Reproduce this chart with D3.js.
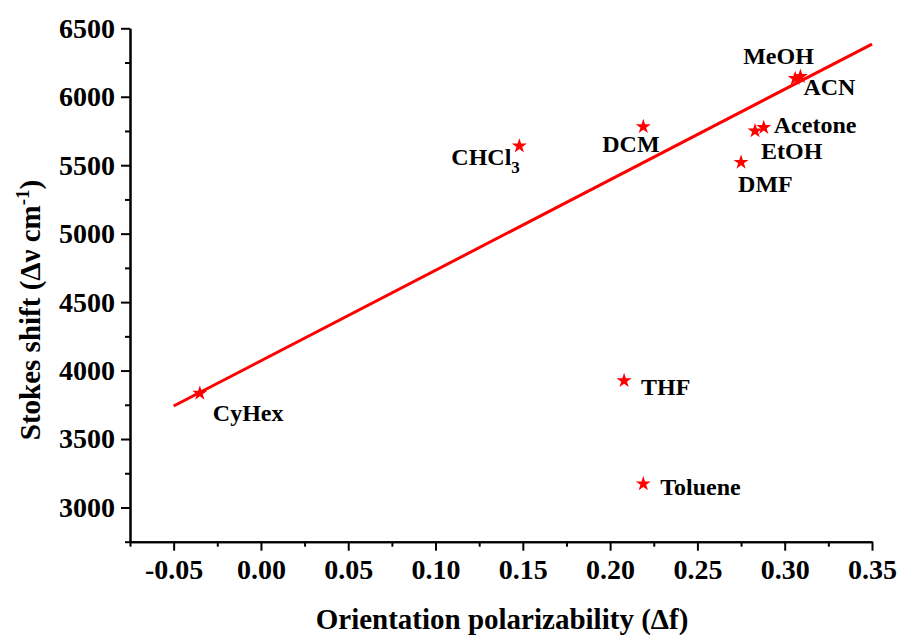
<!DOCTYPE html>
<html>
<head>
<meta charset="utf-8">
<script src="https://cdn.jsdelivr.net/npm/d3@7"></script>
<style>
  html, body { margin: 0; padding: 0; background: #fff; }
  svg { display: block; }
  text { font-family: "Liberation Serif", "Times New Roman", serif; font-weight: bold; fill: #000; }
</style>
</head>
<body>
<svg id="chart" width="903" height="636"></svg>
<script>
// ---- data ----
const solvents = ["CyHex", "CHCl3", "DCM", "MeOH", "ACN", "Acetone", "EtOH", "DMF", "THF", "Toluene"];
const deltaF = [-0.035, 0.148, 0.219, 0.306, 0.309, 0.288, 0.283, 0.275, 0.208, 0.219];
const stokesShift = [3834, 5640, 5781, 6133, 6148, 5775, 5750, 5521, 3926, 3172];
const fitX = [-0.05, 0.35];
const fitY = [3741, 6385];
const xTicks = [-0.05, 0.00, 0.05, 0.10, 0.15, 0.20, 0.25, 0.30, 0.35];
const yTicks = [3000, 3500, 4000, 4500, 5000, 5500, 6000, 6500];
const xMinor = [-0.075, -0.025, 0.025, 0.075, 0.125, 0.175, 0.225, 0.275, 0.325];
const yMinor = [2750, 3250, 3750, 4250, 4750, 5250, 5750, 6250];
// label offsets (px) relative to each star
const labelDx = [13, -68, -41, -52, 3, 10, 6, -3, 17, 17];
const labelDy = [28, 19, 25, -15, 19, 5, 28, 30, 14, 11];

// ---- layout ----
const svg = d3.select("#chart");
const x = d3.scaleLinear().domain([-0.075, 0.35]).range([130, 872]);
const y = d3.scaleLinear().domain([2750, 6500]).range([541.7, 28.3]);
const red = "#ff0000";

// fit line
svg.append("line")
  .attr("x1", x(fitX[0])).attr("y1", y(fitY[0]))
  .attr("x2", x(fitX[1])).attr("y2", y(fitY[1]))
  .attr("stroke", red).attr("stroke-width", 3);

// axes
const fmtX = v => d3.format(".2f")(v).replace("\u2212", "-");
const axisG = svg.append("g");
const xAxis = d3.axisBottom(x).tickValues(xTicks).tickFormat(fmtX).tickSize(9).tickSizeOuter(0).tickPadding(8);
const xMinorAxis = d3.axisBottom(x).tickValues(xMinor).tickFormat("").tickSize(5).tickSizeOuter(0);
const yAxis = d3.axisLeft(y).tickValues(yTicks).tickFormat(d3.format("d")).tickSize(9).tickSizeOuter(0).tickPadding(6);
const yMinorAxis = d3.axisLeft(y).tickValues(yMinor).tickFormat("").tickSize(5).tickSizeOuter(0);

function style(g) {
  g.selectAll("path, line").attr("stroke", "#000").attr("stroke-width", 2);
  g.selectAll("text").attr("font-family", "'Liberation Serif', serif").attr("font-weight", "bold").attr("font-size", 28).attr("fill", "#000");
}
axisG.append("g").attr("transform", `translate(0,${y(2750)})`).call(xMinorAxis).call(style);
axisG.append("g").attr("transform", `translate(0,${y(2750)})`).call(xAxis).call(style);
axisG.append("g").attr("transform", `translate(${x(-0.075)},0)`).call(yMinorAxis).call(style);
axisG.append("g").attr("transform", `translate(${x(-0.075)},0)`).call(yAxis).call(style);

// stars
const star = d3.symbol().type(d3.symbolStar).size(70);
const pts = solvents.map((s, i) => ({ name: s, fx: deltaF[i], sy: stokesShift[i], dx: labelDx[i], dy: labelDy[i] }));
svg.append("g").selectAll("path").data(pts).join("path")
  .attr("d", star)
  .attr("transform", d => `translate(${x(d.fx)},${y(d.sy)})`)
  .attr("fill", red);

// labels
const lab = svg.append("g").selectAll("text").data(pts).join("text")
  .attr("x", d => x(d.fx) + d.dx)
  .attr("y", d => y(d.sy) + d.dy)
  .attr("font-size", 24);
lab.each(function(d) {
  const t = d3.select(this);
  const m = d.name.match(/^(.*?)(\d+)$/);
  if (m) {
    t.append("tspan").text(m[1]);
    t.append("tspan").attr("dy", 8).attr("font-size", 17).text(m[2]);
  } else {
    t.text(d.name);
  }
});

// axis titles
svg.append("text")
  .attr("x", 502).attr("y", 629)
  .attr("text-anchor", "middle").attr("font-size", 29)
  .text("Orientation polarizability (Δf)");

const yt = svg.append("text")
  .attr("transform", "translate(40,310) rotate(-90)")
  .attr("text-anchor", "middle").attr("font-size", 29);
yt.append("tspan").text("Stokes shift (Δν cm");
yt.append("tspan").attr("dy", -11).attr("font-size", 19).text("-1");
yt.append("tspan").attr("dy", 11).text(")");
</script>
</body>
</html>
